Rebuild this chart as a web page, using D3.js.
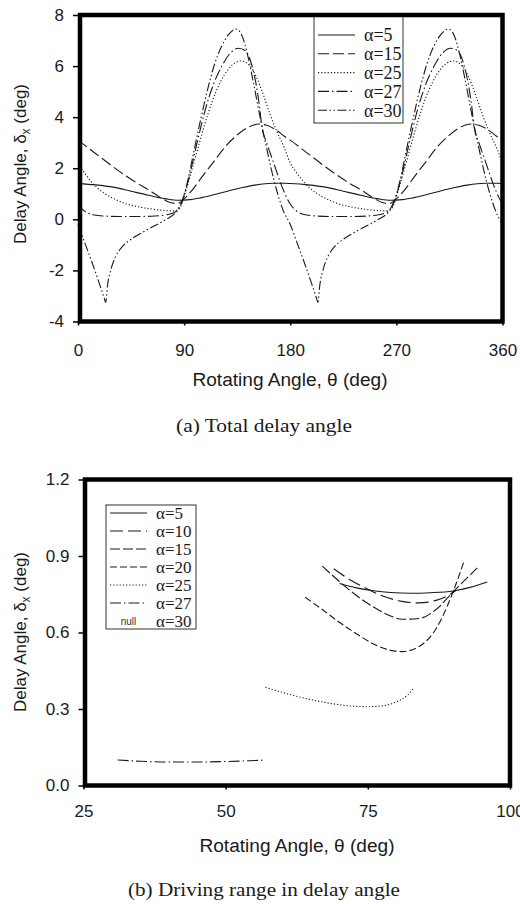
<!DOCTYPE html>
<html><head><meta charset="utf-8">
<script src="https://cdn.jsdelivr.net/npm/d3@7"></script>
<style>body{margin:0;background:#fff}svg{display:block}</style>
</head><body>
<svg id="c" width="520" height="904"></svg>
<script>
// ---------- Panel (a) data ----------
const topXTicks = [0, 90, 180, 270, 360];
const topYTicks = [-4, -2, 0, 2, 4, 6, 8];
const topLabels = ["α=5", "α=15", "α=25", "α=27", "α=30"];

const a5Theta = [0,15,30,45,60,75,85,95,105,120,135,150,165,175,180,195,210,225,240,255,265,275,285,300,315,330,345,355,360];
const a5Delta = [1.40,1.35,1.26,1.10,0.94,0.80,0.75,0.77,0.85,1.02,1.20,1.34,1.41,1.41,1.40,1.35,1.26,1.10,0.94,0.80,0.75,0.77,0.85,1.02,1.20,1.34,1.41,1.41,1.40];

const a15Theta = [0,10,20,30,40,50,60,70,78,84,90,97,105,115,125,135,145,153,160,168,175,180,190,200,210,220,230,240,250,258,264,270,277,285,295,305,315,325,333,340,348,355,360];
const a15Delta = [3.10,2.75,2.40,2.05,1.72,1.42,1.15,0.85,0.66,0.62,0.80,1.15,1.65,2.25,2.85,3.30,3.62,3.73,3.68,3.50,3.25,3.10,2.75,2.40,2.05,1.72,1.42,1.15,0.85,0.66,0.62,0.80,1.15,1.65,2.25,2.85,3.30,3.62,3.73,3.68,3.50,3.25,3.10];

const a25Theta = [0,5,10,16,23,30,40,50,60,70,80,85,88,92,97,103,110,117,124,131,138,145,151,157,163,169,175,180,185,190,196,203,210,220,230,240,250,260,265,268,272,277,283,290,297,304,311,318,325,331,337,343,349,355,360];
const a25Delta = [2.20,1.85,1.55,1.25,1.00,0.82,0.62,0.50,0.42,0.36,0.33,0.38,0.60,1.20,2.00,3.00,4.10,5.00,5.65,6.05,6.20,6.05,5.60,4.90,4.10,3.40,2.80,2.20,1.85,1.55,1.25,1.00,0.82,0.62,0.50,0.42,0.36,0.33,0.38,0.60,1.20,2.00,3.00,4.10,5.00,5.65,6.05,6.20,6.05,5.60,4.90,4.10,3.40,2.80,2.20];

const a27Theta = [0,4,8,14,22,35,50,65,75,82,86,90,95,101,108,115,122,129,136,142,147,151,154,156,160,166,172,177,180,184,188,194,202,215,230,245,255,262,266,270,275,281,288,295,302,309,316,322,327,331,334,336,340,346,352,357,360];
const a27Delta = [0.60,0.38,0.25,0.17,0.13,0.11,0.11,0.13,0.18,0.28,0.50,0.95,1.80,3.00,4.30,5.30,6.00,6.50,6.70,6.60,6.10,5.30,4.40,3.60,3.00,2.20,1.40,0.85,0.60,0.38,0.25,0.17,0.13,0.11,0.11,0.13,0.18,0.28,0.50,0.95,1.80,3.00,4.30,5.30,6.00,6.50,6.70,6.60,6.10,5.30,4.40,3.60,3.00,2.20,1.40,0.85,0.60];

const a30Theta = [0,6,12,18,22,23.5,25,28,32,37,45,55,65,75,82,86,89,93,98,104,110,116,122,128,134,139,144,149,154,159,164,169,174,180,186,192,198,202,203.5,205,208,212,217,225,235,245,255,262,266,269,273,278,284,290,296,302,308,314,319,324,329,334,339,344,349,354,360];
const a30Delta = [-0.20,-0.95,-1.70,-2.50,-3.05,-3.25,-2.60,-1.95,-1.45,-1.10,-0.78,-0.50,-0.25,0.00,0.22,0.45,0.80,1.50,2.60,3.90,5.10,6.10,6.80,7.25,7.45,7.20,6.40,5.30,4.10,3.00,1.95,1.05,0.35,-0.20,-0.95,-1.70,-2.50,-3.05,-3.25,-2.60,-1.95,-1.45,-1.10,-0.78,-0.50,-0.25,0.00,0.22,0.45,0.80,1.50,2.60,3.90,5.10,6.10,6.80,7.25,7.45,7.20,6.40,5.30,4.10,3.00,1.95,1.05,0.35,-0.20];

// ---------- Panel (b) data ----------
const botXTicks = [25, 50, 75, 100];
const botYTicks = [0.0, 0.3, 0.6, 0.9, 1.2];
const botLabels = ["α=5", "α=10", "α=15", "α=20", "α=25", "α=27", "α=30"];

const b5Theta = [70,73,76,79,82.5,86,90,93,96];
const b5Delta = [0.792,0.775,0.764,0.757,0.754,0.756,0.763,0.777,0.798];
const b10Theta = [69,72,75,78,81,84,87,89,90.5];
const b10Delta = [0.850,0.805,0.770,0.740,0.722,0.716,0.726,0.744,0.765];
const b15Theta = [67,70,73,76,79,81,84,87,90,92.5,94.3];
const b15Delta = [0.860,0.800,0.745,0.700,0.665,0.652,0.655,0.690,0.760,0.815,0.855];
const b20Theta = [64,67,70,73,76,79,81,84,87,89,90.5,92];
const b20Delta = [0.738,0.690,0.640,0.595,0.555,0.530,0.525,0.545,0.615,0.705,0.790,0.885];
const b25Theta = [57,60,63,66,69,72,75,78,80,82,83];
const b25Delta = [0.385,0.365,0.347,0.332,0.320,0.312,0.309,0.314,0.328,0.355,0.380];
const b27Theta = [31,35,40,45,50,54,57];
const b27Delta = [0.100,0.095,0.092,0.092,0.094,0.097,0.100];

// ---------- drawing ----------
const svg = d3.select("#c");
const SANS = "'Liberation Sans', Arial, sans-serif";
const SERIF = "'Liberation Serif', 'Times New Roman', serif";
const INK = "#1a1a1a";

function zip(t, d) { return t.map((v, i) => ({x: v, y: d[i]})); }

function panel(cfg) {
  const g = svg.append("g");
  const x = d3.scaleLinear().domain(cfg.xd).range(cfg.xr);
  const y = d3.scaleLinear().domain(cfg.yd).range(cfg.yr);
  const line = d3.line().x(d => x(d.x)).y(d => y(d.y)).curve(d3.curveMonotoneX);

  cfg.series.forEach(s => {
    g.append("path").datum(zip(s.t, s.d))
      .attr("d", line).attr("fill", "none").attr("stroke", INK)
      .attr("stroke-width", 1.1).attr("stroke-dasharray", s.dash || null);
  });

  // legend
  const L = cfg.legend;
  g.append("rect").attr("x", L.x).attr("y", L.y).attr("width", L.w).attr("height", L.h)
    .attr("fill", "#fff").attr("stroke", "#333").attr("stroke-width", 1);
  cfg.legendItems.forEach((it, i) => {
    const yy = L.row0 + i * L.step;
    if (it.dash === "null") {
      g.append("text").attr("x", (L.lx0 + L.lx1) / 2).attr("y", yy).attr("dy", "0.35em")
        .attr("text-anchor", "middle").attr("font-family", SANS).attr("font-size", 10)
        .attr("fill", "#333").text("null");
    } else {
      g.append("line").attr("x1", L.lx0).attr("x2", L.lx1).attr("y1", yy).attr("y2", yy)
        .attr("stroke", INK).attr("stroke-width", 1.1).attr("stroke-dasharray", it.dash || null);
    }
    g.append("text").attr("x", L.tx).attr("y", yy).attr("dy", "0.35em")
      .attr("font-family", SERIF).attr("font-size", L.fs).attr("fill", INK).text(it.label);
  });

  // frame
  g.append("rect").attr("x", cfg.frame[0]).attr("y", cfg.frame[1])
    .attr("width", cfg.frame[2] - cfg.frame[0]).attr("height", cfg.frame[3] - cfg.frame[1])
    .attr("fill", "none").attr("stroke", "#000").attr("stroke-width", 4.5);

  // axes
  const ax = g.append("g").attr("transform", `translate(0,${cfg.frame[3]})`)
    .call(d3.axisBottom(x).tickValues(cfg.xt).tickSize(4).tickPadding(cfg.xpad).tickFormat(d => String(d)));
  const ay = g.append("g").attr("transform", `translate(${cfg.xr[0]},0)`)
    .call(d3.axisLeft(y).tickValues(cfg.yt).tickSize(5).tickPadding(cfg.ypad).tickFormat(cfg.yfmt));
  [ax, ay].forEach(a => {
    a.select(".domain").remove();
    a.selectAll(".tick line").attr("stroke", "#000").attr("stroke-width", 1.5);
    a.selectAll(".tick text").attr("font-family", SANS).attr("font-size", 17).attr("fill", INK);
  });

  // axis titles
  g.append("text").attr("x", cfg.xTitle[0]).attr("y", cfg.xTitle[1])
    .attr("text-anchor", "middle").attr("font-family", SANS).attr("font-size", 18).attr("fill", INK)
    .attr("textLength", 195).attr("lengthAdjust", "spacingAndGlyphs")
    .text("Rotating Angle, θ (deg)");

  const yt = g.append("text").attr("transform", `translate(${cfg.yTitle[0]},${cfg.yTitle[1]}) rotate(-90)`)
    .attr("text-anchor", "middle").attr("font-family", SANS).attr("font-size", 17).attr("fill", INK);
  yt.append("tspan").text("Delay Angle, δ");
  yt.append("tspan").attr("font-size", 12).attr("dy", 4).text("x");
  yt.append("tspan").attr("dy", -4).text(" (deg)");

  // caption
  g.append("text").attr("x", cfg.cap[0]).attr("y", cfg.cap[1]).attr("text-anchor", "middle")
    .attr("font-family", SERIF).attr("font-size", 19).attr("fill", INK)
    .attr("textLength", cfg.capLen).attr("lengthAdjust", "spacingAndGlyphs").text(cfg.capText);
}

const topDashes = [null, "11,4", "1.2,2", "11,3,1.5,3", "9,2.5,1.5,2.5,1.5,2.5"];
const topSeries = [[a5Theta,a5Delta],[a15Theta,a15Delta],[a25Theta,a25Delta],[a27Theta,a27Delta],[a30Theta,a30Delta]]
  .map((p, i) => ({t: p[0], d: p[1], dash: topDashes[i]}));

panel({
  xd: [0, 360], xr: [78, 502.5], yd: [-4, 8], yr: [321.5, 15],
  frame: [80, 15, 502.5, 321.5],
  xt: topXTicks, yt: topYTicks, yfmt: d => String(d), xpad: 18, ypad: 9,
  series: topSeries,
  legend: {x: 314, y: 15, w: 89, h: 108, row0: 35, step: 18.8, lx0: 318, lx1: 355, tx: 364, fs: 18},
  legendItems: topLabels.map((l, i) => ({label: l, dash: topDashes[i]})),
  xTitle: [290, 386], yTitle: [26, 164], cap: [264, 432], capLen: 176, capText: "(a) Total delay angle"
});

const botDashes = [null, "13,5", "10,3", "7,3", "1.2,2", "11,3,1.5,3", "null"];
const botSeries = [[b5Theta,b5Delta],[b10Theta,b10Delta],[b15Theta,b15Delta],[b20Theta,b20Delta],[b25Theta,b25Delta],[b27Theta,b27Delta]]
  .map((p, i) => ({t: p[0], d: p[1], dash: botDashes[i]}));

panel({
  xd: [25, 100], xr: [83.5, 510], yd: [0, 1.2], yr: [785.5, 479.5],
  frame: [85, 479.5, 510, 785.5],
  xt: botXTicks, yt: botYTicks, yfmt: d3.format(".1f"), xpad: 15, ypad: 9,
  series: botSeries,
  legend: {x: 106, y: 505, w: 90, h: 124, row0: 513, step: 18, lx0: 110, lx1: 147, tx: 156, fs: 17},
  legendItems: botLabels.map((l, i) => ({label: l, dash: botDashes[i]})),
  xTitle: [297, 852], yTitle: [26, 632], cap: [264, 896], capLen: 272, capText: "(b) Driving range in delay angle"
});
</script>
</body></html>
